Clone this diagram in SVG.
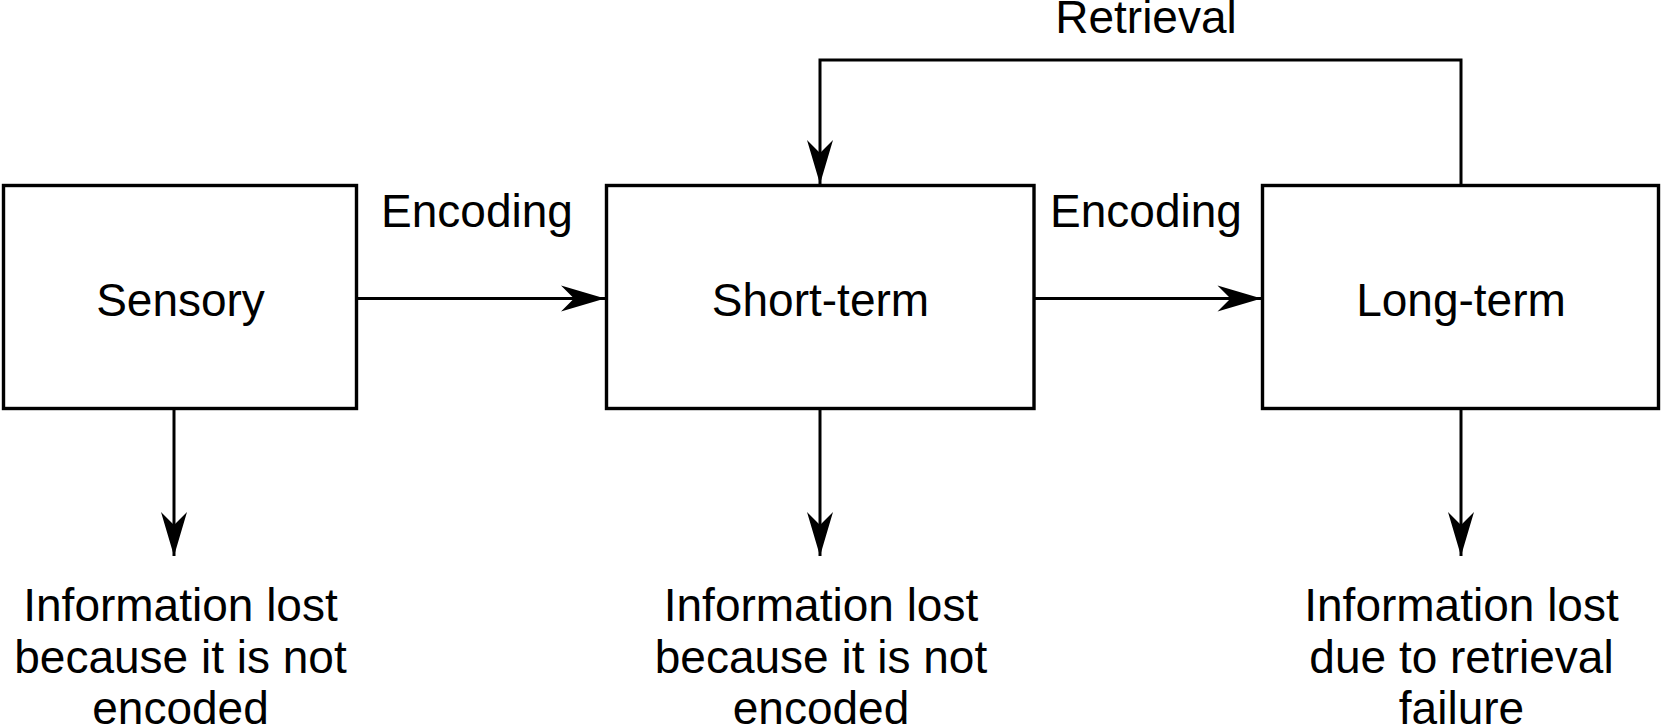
<svg xmlns="http://www.w3.org/2000/svg" width="1661" height="726" viewBox="0 0 1661 726">
<style>
  .box { fill: #ffffff; stroke: #000000; stroke-width: 3.4; }
  .conn { fill: none; stroke: #000000; stroke-width: 3; }
  text { font-family: "Liberation Sans", Arial, sans-serif; font-size: 46px; fill: #000000; text-anchor: middle; }
</style>
<defs>
  <marker id="arrow" markerUnits="userSpaceOnUse" viewBox="-46 -15 48 30" markerWidth="48" markerHeight="30" refX="0" refY="0" orient="auto">
    <path d="M0,0 L-44,-13 L-31,0 L-44,13 Z" fill="#000000"/>
  </marker>
</defs>
<rect width="1661" height="726" fill="#ffffff"/>
<g id="connectors">
  <line class="conn" x1="356" y1="298.5" x2="605" y2="298.5" marker-end="url(#arrow)"/>
  <line class="conn" x1="1034" y1="298.5" x2="1261.5" y2="298.5" marker-end="url(#arrow)"/>
  <polyline class="conn" points="1461,185 1461,60 820,60 820,184" marker-end="url(#arrow)"/>
  <line class="conn" x1="174" y1="408" x2="174" y2="556" marker-end="url(#arrow)"/>
  <line class="conn" x1="820" y1="408" x2="820" y2="556" marker-end="url(#arrow)"/>
  <line class="conn" x1="1461" y1="408" x2="1461" y2="556" marker-end="url(#arrow)"/>
  <text x="477" y="227">Encoding</text>
  <text x="1146" y="227">Encoding</text>
  <text x="1146" y="33">Retrieval</text>
</g>
<g id="sensory">
  <rect class="box" x="3.5" y="185.5" width="353" height="223"/>
  <text x="180.5" y="316">Sensory</text>
</g>
<g id="short-term">
  <rect class="box" x="606.5" y="185.5" width="427.5" height="223"/>
  <text x="820.5" y="316">Short-term</text>
</g>
<g id="long-term">
  <rect class="box" x="1262.5" y="185.5" width="396" height="223"/>
  <text x="1461" y="316">Long-term</text>
</g>
<g id="loss-sensory">
  <text x="180.5" y="621">Information lost</text>
  <text x="180.5" y="673">because it is not</text>
  <text x="180.5" y="724">encoded</text>
</g>
<g id="loss-short-term">
  <text x="821" y="621">Information lost</text>
  <text x="821" y="673">because it is not</text>
  <text x="821" y="724">encoded</text>
</g>
<g id="loss-long-term">
  <text x="1461.5" y="621">Information lost</text>
  <text x="1461.5" y="673">due to retrieval</text>
  <text x="1461.5" y="724">failure</text>
</g>
</svg>
